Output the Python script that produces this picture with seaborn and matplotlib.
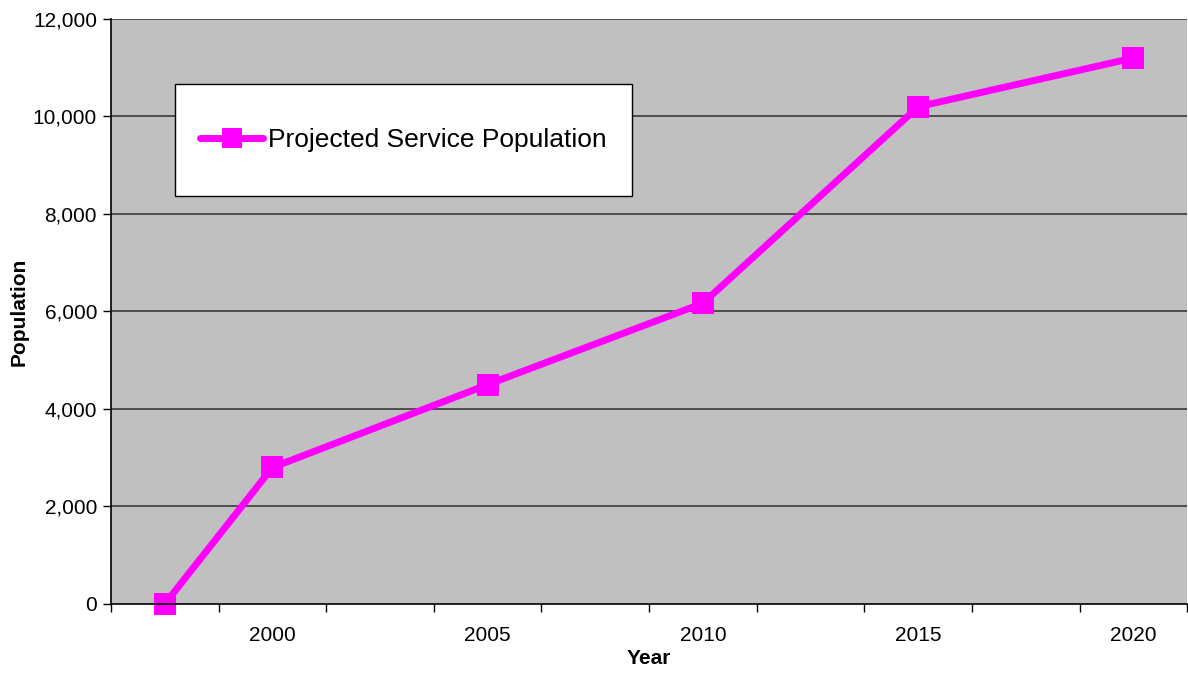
import matplotlib
matplotlib.use("Agg")
import matplotlib.pyplot as plt
import seaborn as sns
import pandas as pd
import numpy as np
from matplotlib.ticker import FuncFormatter, FixedLocator
from matplotlib.patches import Rectangle

years = [1997.5, 2000, 2005, 2010, 2015, 2020]
population = [0, 2800, 4500, 6170, 10200, 11200]
year_labels = [2000, 2005, 2010, 2015, 2020]
series_name = "Projected Service Population"

df = pd.DataFrame({"Year": years, "Population": population, "Series": series_name})

sns.set_style("white")
plt.rcParams['font.family'] = ['Liberation Sans', 'DejaVu Sans']
plt.rcParams['text.color'] = 'black'
plt.rcParams['axes.labelcolor'] = 'black'
plt.rcParams['xtick.color'] = 'black'
plt.rcParams['ytick.color'] = 'black'

fig = plt.figure(figsize=(11.88, 6.75), dpi=100)
ax = fig.add_axes([0.0934, 0.1052, 0.906, 0.8667])
ax.set_facecolor("#C0C0C0")

for y in range(2000, 12001, 2000):
    ax.axhline(y, color="#3a3a3a", lw=1.2, zorder=1)

sns.lineplot(data=df, x="Year", y="Population", hue="Series", palette=["#FF00FF"],
             marker="s", markersize=16, markeredgewidth=0, linewidth=5,
             ax=ax, zorder=3, clip_on=False)

ax.set_xlim(1996.25, 2021.25)
ax.set_ylim(0, 12000)
ax.set_yticks(np.arange(0, 12001, 2000))
ax.yaxis.set_major_formatter(FuncFormatter(lambda v, p: f"{int(v):,}"))
ax.set_xticks(year_labels)
ax.set_xticklabels([str(y) for y in year_labels])
ax.xaxis.set_minor_locator(FixedLocator(np.arange(1996.25, 2021.3, 2.5)))
ax.tick_params(axis="x", which="major", length=0, labelsize=15, pad=16)
ax.tick_params(axis="x", which="minor", length=6, width=1, color="black", direction="out", bottom=True)
ax.tick_params(axis="y", which="major", length=6, width=1, color="black", direction="out", left=True, labelsize=15, pad=4)

for s in ["top", "right"]:
    ax.spines[s].set_visible(False)
for s in ["left", "bottom"]:
    ax.spines[s].set_color("black")
    ax.spines[s].set_linewidth(1.2)
    ax.spines[s].set_zorder(4)

ax.set_xlabel("Year", fontsize=15, fontweight="bold", labelpad=3)
ax.set_ylabel("Population", fontsize=15, fontweight="bold", labelpad=3)

# legend box frame
frame = Rectangle((0.0594, 0.6974), 0.4243, 0.1915, transform=ax.transAxes,
                  facecolor="white", edgecolor="black", lw=1.0, zorder=5)
ax.add_patch(frame)

leg = ax.legend(loc="center left", bbox_to_anchor=(0.0826, 0.793),
                fontsize=19, frameon=False, borderpad=0, borderaxespad=0,
                handlelength=2.4, handletextpad=0.2, markerscale=0.9, title=None)
leg.set_zorder(6)

fig.savefig("out.png", dpi=100)
